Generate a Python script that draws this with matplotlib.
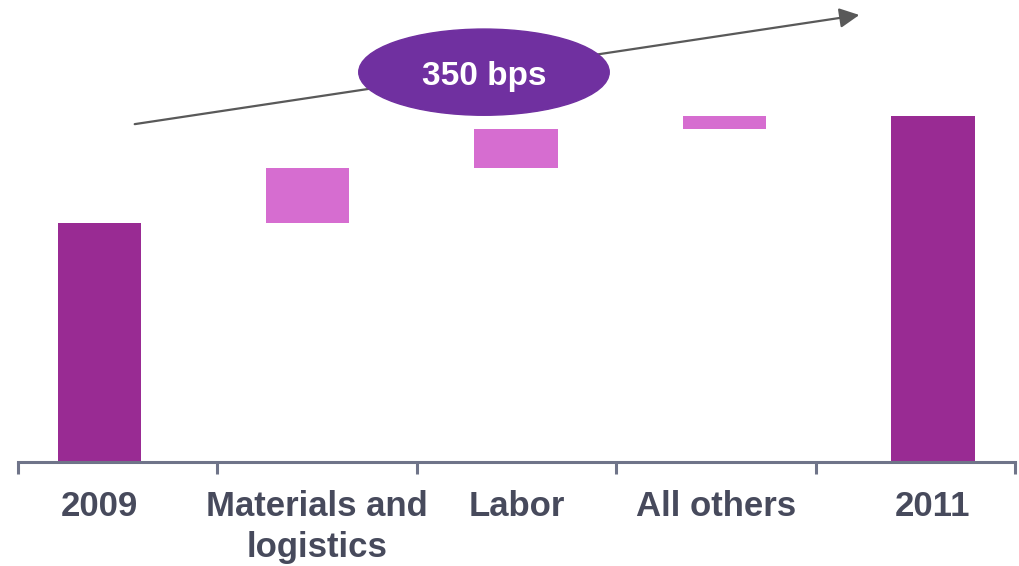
import numpy as np
import matplotlib.pyplot as plt
from matplotlib.patches import Ellipse

plt.rcParams['font.family'] = ['Liberation Sans', 'DejaVu Sans']

# Margin bridge, in bps
categories = ['2009', 'Materials and\nlogistics', 'Labor', 'All others', '2011']
start_value = 782
deltas = [180, 127, 43]
end_value = start_value + sum(deltas)

dark = '#992B93'
light = '#D66DD0'
oval = '#7030A0'
text_color = '#474A5C'
axis_color = '#6F7489'

fig = plt.figure(figsize=(10.2, 5.66), dpi=100)
ax = fig.add_axes([18 / 1020, 104 / 566, 997 / 1020, 462 / 566])

x = np.arange(len(categories))
width = 0.40

# first and last bars are totals, the middle ones float on the running sum
bottoms = [0] + list(start_value + np.cumsum([0] + deltas[:-1])) + [0]
heights = [start_value] + deltas + [end_value]
colors = [dark] + [light] * len(deltas) + [dark]
ax.bar(x, heights, width=width, bottom=bottoms, color=colors, zorder=2)

x0, x1 = -0.39, 4.394
ax.set_xlim(x0, x1)
ax.set_ylim(0, 1511)

edges = np.linspace(x0, x1, len(categories) + 1)
ax.set_xticks(edges)
ax.set_xticklabels([])
ax.tick_params(axis='x', length=8.5, width=2.2, color=axis_color, direction='out')
ax.set_yticks([])
for side in ['left', 'right', 'top']:
    ax.spines[side].set_visible(False)
ax.spines['bottom'].set_color(axis_color)
ax.spines['bottom'].set_linewidth(2.2)

# labels: totals sit under their bars, the drivers under their category
centers = (edges[:-1] + edges[1:]) / 2
label_x = [x[0]] + list(centers[1:-1]) + [x[-1]]
for lx, lab in zip(label_x, categories):
    ax.text(lx, -0.061, lab, transform=ax.get_xaxis_transform(),
            ha='center', va='top', fontsize=25, fontweight='bold',
            color=text_color, linespacing=1.3, clip_on=False)

# trend arrow with the total change in an oval
ax.annotate('', xy=(3.647, 1462), xytext=(0.17, 1105),
            arrowprops=dict(arrowstyle='-|>', color='#595959', lw=1.6,
                            mutation_scale=30, shrinkA=0, shrinkB=0),
            annotation_clip=False, zorder=3)
ax.add_patch(Ellipse((1.846, 1275), 1.202, 282, color=oval, zorder=4, clip_on=False))
ax.text(1.846, 1260, f'{sum(deltas)} bps', ha='center', va='center',
        fontsize=24, fontweight='bold', color='white', zorder=5)

fig.savefig('out.png', dpi=100)
